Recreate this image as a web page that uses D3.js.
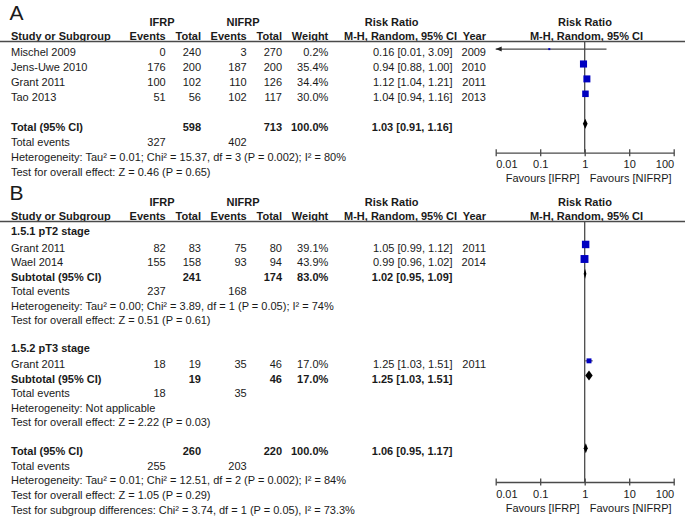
<!DOCTYPE html>
<html>
<head>
<meta charset="utf-8">
<script src="https://cdn.jsdelivr.net/npm/d3@7"></script>
<style>
  body { margin: 0; background: #fff; }
  svg text { font-family: Arial, "Liberation Sans", sans-serif; font-size: 11px; fill: #1a1a1a; }
</style>
</head>
<body>
<svg width="685" height="521"></svg>
<script>
// ---- panel A data
const studiesA = ["Mischel 2009", "Jens-Uwe 2010", "Grant 2011", "Tao 2013"];
const ifrpEventsA = [0, 176, 100, 51];
const ifrpTotalA = [240, 200, 102, 56];
const nifrpEventsA = [3, 187, 110, 102];
const nifrpTotalA = [270, 200, 126, 117];
const weightA = [0.2, 35.4, 34.4, 30.0];
const rrA = [0.16, 0.94, 1.12, 1.04];
const loA = [0.01, 0.88, 1.04, 0.94];
const hiA = [3.09, 1.00, 1.21, 1.16];
const yearA = [2009, 2010, 2011, 2013];
// total row: IFRP total, NIFRP total, weight, rr, lo, hi
const totalA = [598, 713, 100.0, 1.03, 0.91, 1.16];
const totalEventsA = [327, 402];
const statsA = [
  "Heterogeneity: Tau² = 0.01; Chi² = 15.37, df = 3 (P = 0.002); I² = 80%",
  "Test for overall effect: Z = 0.46 (P = 0.65)"
];

// ---- panel B data
const subgroupsB = ["1.5.1 pT2 stage", "1.5.2 pT3 stage"];
const studiesB = ["Grant 2011", "Wael 2014", "Grant 2011"];
const groupB = [0, 0, 1];
const ifrpEventsB = [82, 155, 18];
const ifrpTotalB = [83, 158, 19];
const nifrpEventsB = [75, 93, 35];
const nifrpTotalB = [80, 94, 46];
const weightB = [39.1, 43.9, 17.0];
const rrB = [1.05, 0.99, 1.25];
const loB = [0.99, 0.96, 1.03];
const hiB = [1.12, 1.02, 1.51];
const yearB = [2011, 2014, 2011];
const subIfrpTotalB = [241, 19];
const subNifrpTotalB = [174, 46];
const subWeightB = [83.0, 17.0];
const subRrB = [1.02, 1.25];
const subLoB = [0.95, 1.03];
const subHiB = [1.09, 1.51];
const subIfrpEventsB = [237, 18];
const subNifrpEventsB = [168, 35];
const subHetB = [
  "Heterogeneity: Tau² = 0.00; Chi² = 3.89, df = 1 (P = 0.05); I² = 74%",
  "Heterogeneity: Not applicable"
];
const subTestB = [
  "Test for overall effect: Z = 0.51 (P = 0.61)",
  "Test for overall effect: Z = 2.22 (P = 0.03)"
];
const totalB = [260, 220, 100.0, 1.06, 0.95, 1.17];
const totalEventsB = [255, 203];
const statsB = [
  "Heterogeneity: Tau² = 0.01; Chi² = 12.51, df = 2 (P = 0.002); I² = 84%",
  "Test for overall effect: Z = 1.05 (P = 0.29)",
  "Test for subgroup differences: Chi² = 3.74, df = 1 (P = 0.05), I² = 73.3%"
];

// ---- axis
const tickValues = [0.01, 0.1, 1, 10, 100];
const tickLabels = ["0.01", "0.1", "1", "10", "100"];
const favours = ["Favours [IFRP]", "Favours [NIFRP]"];

const svg = d3.select("svg");
const x = d3.scaleLog().domain([0.01, 100]).range([495.7, 673.7]);
const boxSize = d3.scaleSqrt().domain([0, 45]).range([0, 8]);
const f2 = d3.format(".2f");
const fW = d => d3.format(".1f")(d) + "%";
const rrText = (rr, lo, hi) => `${f2(rr)} [${f2(lo)}, ${f2(hi)}]`;

// column positions
const col = { study: 11, ev1: 165.7, tot1: 201, ev2: 246.7, tot2: 282, weight: 328.3, rr: 452.5, year: 486 };
const lineColor = "#4a4a4a";
const boxColor = "#0000c0";

// rows: y is the visual centre of a text line
const rowA = d3.scaleLinear().domain([0, 1]).range([52.3, 67.2]);
const rowB = d3.scaleLinear().domain([0, 1]).range([233.1, 247.65]);

function label(cx, cy, s, anchor, bold) {
  return svg.append("text")
    .attr("x", cx)
    .attr("y", cy + 4)
    .attr("text-anchor", anchor || "start")
    .attr("font-weight", bold ? "bold" : null)
    .text(s);
}

function drawHeader(top, letter) {
  svg.append("text")
    .attr("x", 9.5)
    .attr("y", top + 20)
    .style("font-size", "21px")
    .text(letter);
  const y1 = top + 21.7, y2 = top + 36;
  label(162, y1, "IFRP", "middle", true);
  label(243, y1, "NIFRP", "middle", true);
  label(391.7, y1, "Risk Ratio", "middle", true);
  label(585, y1, "Risk Ratio", "middle", true);
  label(col.study, y2, "Study or Subgroup", "start", true);
  label(col.ev1, y2, "Events", "end", true);
  label(col.tot1, y2, "Total", "end", true);
  label(col.ev2, y2, "Events", "end", true);
  label(col.tot2, y2, "Total", "end", true);
  label(col.weight, y2, "Weight", "end", true);
  label(344, y2, "M-H, Random, 95% CI", "start", true);
  label(col.year, y2, "Year", "end", true);
  label(586.5, y2, "M-H, Random, 95% CI", "middle", true);
  svg.append("line")
    .attr("x1", 0).attr("x2", 685)
    .attr("y1", top + 41.5).attr("y2", top + 41.5)
    .attr("stroke", lineColor)
    .attr("stroke-width", 1.3);
}

function drawNullLine(y1, y2) {
  svg.append("line")
    .attr("x1", x(1)).attr("x2", x(1))
    .attr("y1", y1).attr("y2", y2)
    .attr("stroke", lineColor)
    .attr("stroke-width", 1.3);
}

function drawStudy(cy, name, e1, t1, e2, t2, w, rr, lo, hi, yr) {
  label(col.study, cy, name);
  label(col.ev1, cy, e1, "end");
  label(col.tot1, cy, t1, "end");
  label(col.ev2, cy, e2, "end");
  label(col.tot2, cy, t2, "end");
  label(col.weight, cy, fW(w), "end");
  label(col.rr, cy, rrText(rr, lo, hi), "end");
  label(col.year, cy, yr, "end");

  const my = cy - 3.2;
  const [dMin, dMax] = x.domain();
  svg.append("line")
    .attr("x1", x(Math.max(lo, dMin))).attr("x2", x(Math.min(hi, dMax)))
    .attr("y1", my).attr("y2", my)
    .attr("stroke", lineColor)
    .attr("stroke-width", 1.2);
  if (lo <= dMin) {
    const ax = x(dMin);
    svg.append("path")
      .attr("d", `M${ax},${my}L${ax + 6},${my - 2.5}L${ax + 6},${my + 2.5}Z`)
      .attr("fill", "#222");
  }
  const s = Math.max(2, boxSize(w));
  svg.append("rect")
    .attr("x", x(rr) - s / 2)
    .attr("y", my - s / 2)
    .attr("width", s)
    .attr("height", s)
    .attr("fill", boxColor);
}

function drawPooled(cy, name, t1, t2, w, rr, lo, hi) {
  label(col.study, cy, name, "start", true);
  label(col.tot1, cy, t1, "end", true);
  label(col.tot2, cy, t2, "end", true);
  label(col.weight, cy, fW(w), "end", true);
  label(col.rr, cy, rrText(rr, lo, hi), "end", true);
  const my = cy - 3;
  svg.append("path")
    .attr("d", `M${x(lo)},${my}L${x(rr)},${my - 5}L${x(hi)},${my}L${x(rr)},${my + 5}Z`)
    .attr("fill", "#000");
}

function drawEvents(cy, e1, e2) {
  label(col.study, cy, "Total events");
  label(col.ev1, cy, e1, "end");
  label(col.ev2, cy, e2, "end");
}

function drawAxis(yAxis) {
  const g = svg.append("g")
    .attr("transform", `translate(0,${yAxis})`)
    .call(d3.axisBottom(x)
      .tickValues(tickValues)
      .tickFormat((d, i) => tickLabels[i])
      .tickSizeOuter(0)
      .tickSizeInner(3));
  g.attr("font-size", null).attr("font-family", null);
  g.select(".domain").attr("stroke", lineColor).attr("stroke-width", 1.3);
  g.selectAll(".tick line").attr("y1", -3.5).attr("y2", 3.5)
    .attr("stroke", lineColor).attr("stroke-width", 1.3);
  g.selectAll(".tick text")
    .attr("y", 15.5).attr("dy", null)
    .attr("fill", "#1a1a1a")
    .attr("text-anchor", (d, i) => i === 0 ? "start" : i === tickValues.length - 1 ? "end" : "middle");
  g.append("text").attr("x", x(1) - 5).attr("y", 29.5).attr("text-anchor", "end").text(favours[0]);
  g.append("text").attr("x", x(1) + 5).attr("y", 29.5).attr("text-anchor", "start").text(favours[1]);
}

// ===== Panel A
const axisA = 152.7;
drawHeader(0, "A");
drawNullLine(41.5, axisA);
studiesA.forEach((name, i) => {
  drawStudy(rowA(i), name, ifrpEventsA[i], ifrpTotalA[i], nifrpEventsA[i], nifrpTotalA[i],
    weightA[i], rrA[i], loA[i], hiA[i], yearA[i]);
});
drawPooled(rowA(5), "Total (95% CI)", totalA[0], totalA[1], totalA[2], totalA[3], totalA[4], totalA[5]);
drawEvents(rowA(6), totalEventsA[0], totalEventsA[1]);
statsA.forEach((s, i) => label(col.study, rowA(7 + i), s));
drawAxis(axisA);

// ===== Panel B
const axisB = 482;
drawHeader(180, "B");
drawNullLine(221.5, axisB);
subgroupsB.forEach((sg, g) => {
  const base = g * 8;
  label(col.study, rowB(base) - 2, sg, "start", true);
  let k = 1;
  studiesB.forEach((name, i) => {
    if (groupB[i] !== g) return;
    drawStudy(rowB(base + k), name, ifrpEventsB[i], ifrpTotalB[i], nifrpEventsB[i], nifrpTotalB[i],
      weightB[i], rrB[i], loB[i], hiB[i], yearB[i]);
    k++;
  });
  drawPooled(rowB(base + k), "Subtotal (95% CI)", subIfrpTotalB[g], subNifrpTotalB[g], subWeightB[g],
    subRrB[g], subLoB[g], subHiB[g]);
  drawEvents(rowB(base + k + 1), subIfrpEventsB[g], subNifrpEventsB[g]);
  label(col.study, rowB(base + k + 2), subHetB[g]);
  label(col.study, rowB(base + k + 3), subTestB[g]);
});
drawPooled(rowB(15), "Total (95% CI)", totalB[0], totalB[1], totalB[2], totalB[3], totalB[4], totalB[5]);
drawEvents(rowB(16), totalEventsB[0], totalEventsB[1]);
statsB.forEach((s, i) => label(col.study, rowB(17 + i), s));
drawAxis(axisB);
</script>
</body>
</html>
